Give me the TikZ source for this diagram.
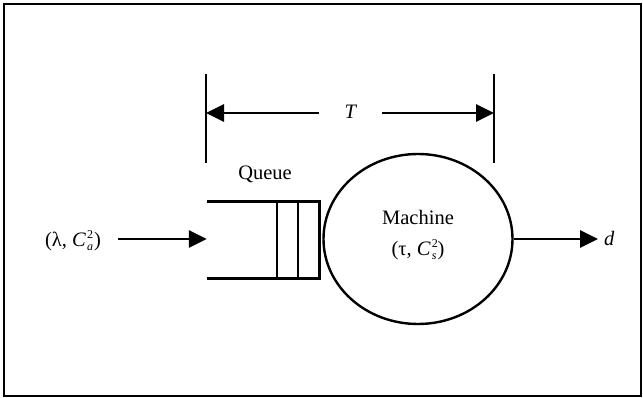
\documentclass[tikz,border=0pt]{standalone}
\usepackage{fontspec}
\setmainfont{Liberation Serif}
\usetikzlibrary{arrows.meta,shapes.geometric}
% stacked superscript / subscript pair
\newcommand{\scr}[2]{\kern1pt\rlap{\raisebox{8pt}{\fontsize{12}{12}\selectfont #1}}\raisebox{-4pt}{\fontsize{12}{12}\selectfont\itshape #2}\kern1pt}
\tikzset{
  heavy/.style={line width=2.9pt},
  bigtip/.style={-{Triangle[length=18pt,width=17pt]}},
  lbl/.style={inner sep=0pt, font=\fontsize{20.5}{24}\selectfont},
}
\begin{document}
\begin{tikzpicture}[x=1pt,y=-1pt]
\useasboundingbox (0,0) rectangle (643,398);
% outer frame
\draw[line width=1.8pt] (4,4) rectangle (641,396);

% machine
\node[ellipse, draw, line width=2.4pt, minimum width=189pt, minimum height=170pt, inner sep=0pt] (machine) at (418,239) {};
\node[lbl] (mname) at (418,217) {Machine};
\node[lbl] (mpar) at (418,250) {(τ, \textit{C}\scr{2}{s})};

% queue (open on the left)
\node[minimum width=112pt, minimum height=76pt, inner sep=0pt] (queue) at (263,240) {};
\draw[heavy] (queue.north west) -- (queue.north east) -- (queue.south east) -- (queue.south west);
\coordinate (s1t) at (277,202); \coordinate (s1b) at (277,278);
\coordinate (s2t) at (298,202); \coordinate (s2b) at (298,278);
\draw[heavy] (s1t) -- (s1b);
\draw[heavy] (s2t) -- (s2b);
\node[lbl] (qname) at (265,174) {Queue};

% arrival
\node[lbl] (arr) at (73,241) {(λ, \textit{C}\scr{2}{a})};
\draw[heavy, bigtip] (118,239) -- (queue.west |- 0,239);

% departure
\node[lbl, anchor=west] (dep) at (604,238) {\textit{d}};
\coordinate (out) at (598,239);
\draw[heavy, bigtip] (machine.east) -- (out);

% time span T
\coordinate (la) at (206,74); \coordinate (lb) at (206,163);
\coordinate (ra) at (494,74); \coordinate (rb) at (494,163);
\draw[heavy] (la) -- (lb);
\draw[heavy] (ra) -- (rb);
\node[lbl, inner sep=0pt] (T) at (351,112) {\textit{T}};
\coordinate (lm) at (206,113); \coordinate (rm) at (494,113);
\draw[heavy, bigtip] (319,113) -- (lm);
\draw[heavy, bigtip] (382,113) -- (rm);
\end{tikzpicture}
\end{document}
